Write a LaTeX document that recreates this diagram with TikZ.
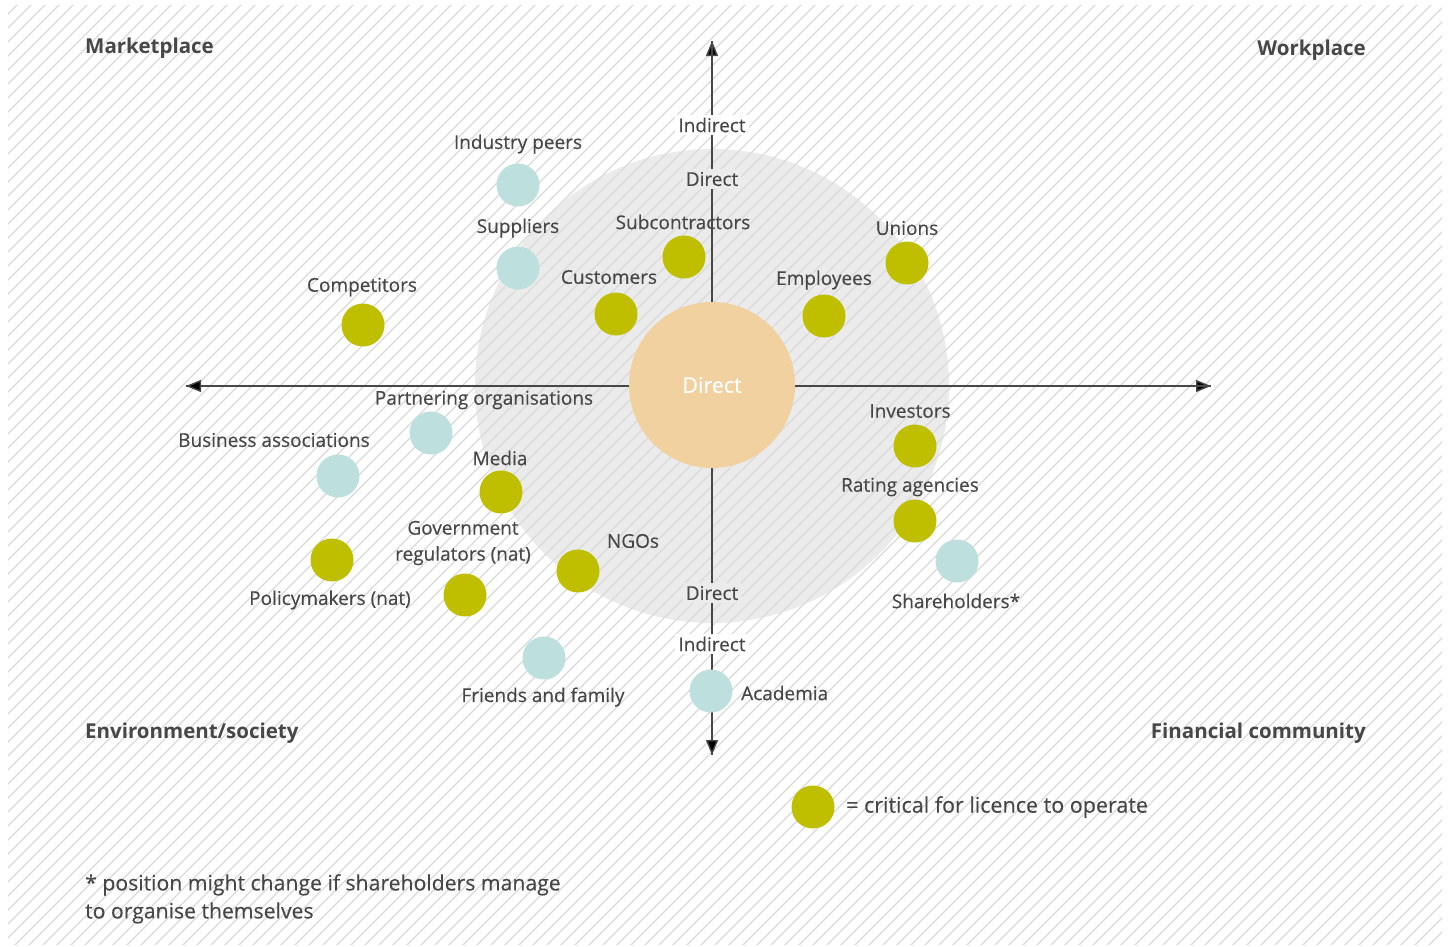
\documentclass[tikz,border=0pt]{standalone}
\usepackage{fontspec}
\setmainfont{Open Sans}
\newfontfamily\medfont[FakeBold=0.3]{Open Sans}
\usetikzlibrary{arrows.meta}
\definecolor{txt}{HTML}{474747}
\definecolor{crit}{HTML}{BFBF00}
\definecolor{other}{HTML}{BDE0DE}
\definecolor{core}{HTML}{F2D1A0}
\definecolor{zone}{HTML}{EBEBEB}
\definecolor{hatch}{HTML}{DADADA}
\begin{document}
\begin{tikzpicture}[x=1pt, y=-1pt,
    lbl/.style={text=txt, font=\medfont\fontsize{19}{22}\selectfont, inner sep=1pt, yshift=-2pt},
    title/.style={text=txt, font=\fontsize{20.5}{24}\selectfont\bfseries, inner sep=0pt, yshift=-3pt},
    dotg/.style={circle, fill=crit, minimum size=43pt, inner sep=0pt},
    dotb/.style={circle, fill=other, minimum size=43pt, inner sep=0pt},
    axlbl/.style={lbl, inner sep=3pt, yshift=2pt}]
    \useasboundingbox (0,0) rectangle (1456,946);
    \fill[white] (0,0) rectangle (1456,946);
    
    %Zone and hatching
    \node[circle, fill=zone, minimum size=474pt, inner sep=0pt] at (712,386) (zone) {};
    \begin{scope}
    \clip (8,5) rectangle (1442,944);
    \foreach \c in {-952,-938,...,1456}
        \draw[hatch, line width=1.3pt] (\c,946) -- (\c+946,0);
    \end{scope}
    
    %Axes
    \coordinate (west) at (186,386);
    \coordinate (east) at (1211,386);
    \coordinate (north) at (712,41);
    \coordinate (south) at (712,755);
    \draw[line width=1.4pt, draw=txt, -{Triangle[length=15pt,width=12pt,fill=black]}] (west) -- (east);
    \draw[line width=1.4pt, draw=txt, {Triangle[length=15pt,width=12pt,fill=black]}-] (west) -- (east);
    \draw[line width=1.4pt, draw=txt, -{Triangle[length=15pt,width=12pt,fill=black]}] (south) -- (north);
    \draw[line width=1.4pt, draw=txt, -{Triangle[length=15pt,width=12pt,fill=black]}] (north) -- (south);
    
    %Nodes
    \node[axlbl, fill=white] at (712,125) (indn) {Indirect};
    \node[axlbl, fill=zone] at (712,179) (dirn) {Direct};
    \node[axlbl, fill=zone] at (712,593) (dirs) {Direct};
    \node[axlbl, fill=white] at (712,644) (inds) {Indirect};
    \node[circle, fill=core, minimum size=166pt, inner sep=0pt, text=white,
          font=\medfont\fontsize{21.5}{24}\selectfont] at (712,385) (centre) {Direct};
    
    \node[dotb] at (518,185) (peers) {};
    \node[lbl] at (518,142) {Industry peers};
    \node[dotb] at (518,268) (suppl) {};
    \node[lbl] at (518,226) {Suppliers};
    \node[dotg] at (363,325) (compet) {};
    \node[lbl] at (362,285) {Competitors};
    \node[dotg] at (684,257) (subcon) {};
    \node[lbl] at (683,220) {Subcontractors};
    \node[dotg] at (616,314) (cust) {};
    \node[lbl] at (609,275) {Customers};
    \node[dotg] at (824,316) (empl) {};
    \node[lbl] at (824,278) {Employees};
    \node[dotg] at (907,263) (unions) {};
    \node[lbl] at (907,226) {Unions};
    
    \node[dotb] at (431,433) (partner) {};
    \node[lbl] at (484,398) {Partnering organisations};
    \node[dotb] at (338,476) (bizassoc) {};
    \node[lbl] at (274,438) {Business associations};
    \node[dotg] at (501,492) (media) {};
    \node[lbl] at (500,456) {Media};
    \node[dotg] at (465,595) (govreg) {};
    \node[lbl, align=center, font=\medfont\fontsize{19}{26}\selectfont] at (463,541) {Government\\regulators (nat)};
    \node[dotg] at (332,560) (policy) {};
    \node[lbl] at (330,598) {Policymakers (nat)};
    \node[dotg] at (578,571) (ngos) {};
    \node[lbl] at (633,539) {NGOs};
    \node[dotb] at (544,658) (friends) {};
    \node[lbl] at (543,695) {Friends and family};
    \node[dotb] at (711,691) (academia) {};
    \node[lbl, anchor=west] at (740,691) {Academia};
    
    \node[dotg] at (915,446) (invest) {};
    \node[lbl] at (910,409) {Investors};
    \node[dotg] at (915,521) (rating) {};
    \node[lbl] at (910,485) {Rating agencies};
    \node[dotb] at (957,561) (sharehold) {};
    \node[lbl] at (956,599) {Shareholders*};
    
    \node[title, anchor=west] at (85,45) (market) {Marketplace};
    \node[title, anchor=east] at (1366,47) (work) {Workplace};
    \node[title, anchor=west] at (85,730) (envsoc) {Environment/society};
    \node[title, anchor=east] at (1366,730) (fincom) {Financial community};
    
    \node[dotg] at (813,807) (legend) {};
    \node[lbl, anchor=west, font=\medfont\fontsize{21.5}{25}\selectfont] at (845,805) {= critical for licence to operate};
    
    \node[lbl, anchor=north west, align=left, font=\medfont\fontsize{21.2}{28}\selectfont, yshift=-2pt] at (84,869) (note)
        {* position might change if shareholders manage\\to organise themselves};
    
    \end{tikzpicture}
\end{document}
